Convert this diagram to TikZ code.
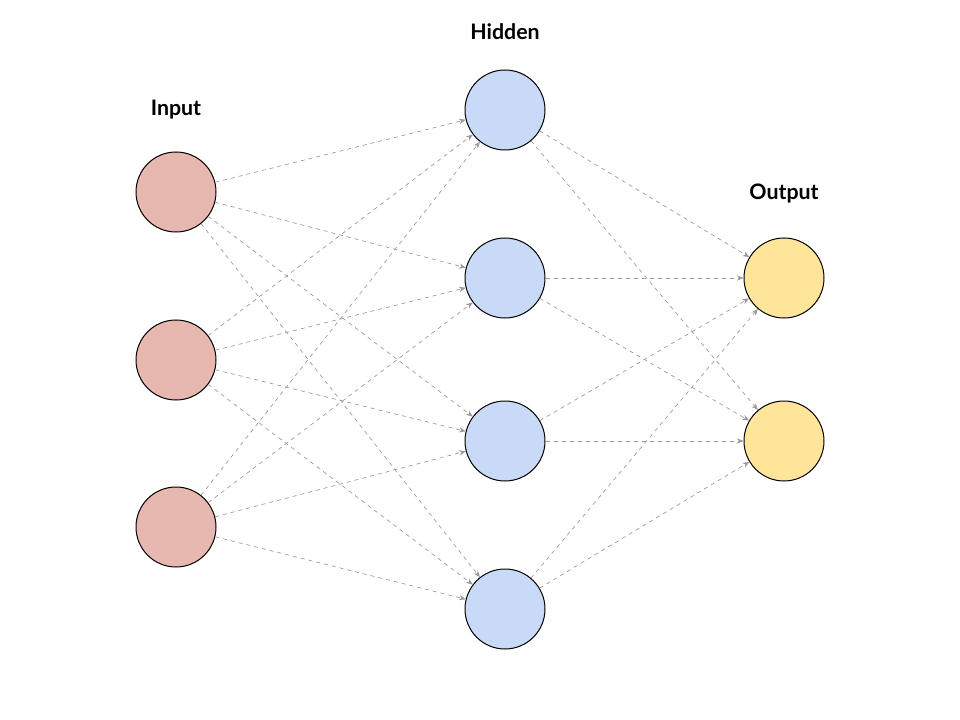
\documentclass[tikz,border=0pt]{standalone}
\usepackage{fontspec}
\setmainfont{Lato}
\usetikzlibrary{arrows.meta}
\definecolor{inc}{HTML}{E6B8AF}
\definecolor{hidc}{HTML}{C9DAF8}
\definecolor{outc}{HTML}{FFE599}
\begin{document}
\begin{tikzpicture}[x=0.75pt,y=-0.75pt,
  neuron/.style={circle,draw=black,line width=0.75pt,minimum size=60pt,inner sep=0pt},
  lbl/.style={font=\bfseries\fontsize{16}{18}\selectfont},
  conn/.style={draw=gray!80,dashed,line width=0.5pt,-{Stealth[length=5pt,width=4pt]}}]
\useasboundingbox (0,0) rectangle (960,720);
\node[neuron,fill=inc] (i1) at (176,192) {};
\node[neuron,fill=inc] (i2) at (176,360) {};
\node[neuron,fill=inc] (i3) at (176,527) {};
\node[neuron,fill=hidc] (h1) at (505,110) {};
\node[neuron,fill=hidc] (h2) at (505,278) {};
\node[neuron,fill=hidc] (h3) at (505,441) {};
\node[neuron,fill=hidc] (h4) at (505,609) {};
\node[neuron,fill=outc] (o1) at (784,278) {};
\node[neuron,fill=outc] (o2) at (784,441) {};
\node[lbl] (li) at (176,110) {Input};
\node[lbl] (lh) at (505,32) {Hidden};
\node[lbl] (lo) at (784,193) {Output};
\foreach \a in {i1,i2,i3}{\foreach \b in {h1,h2,h3,h4}{\draw[conn] (\a) -- (\b);}}
\foreach \a in {h1,h2,h3,h4}{\foreach \b in {o1,o2}{\draw[conn] (\a) -- (\b);}}
\end{tikzpicture}
\end{document}
